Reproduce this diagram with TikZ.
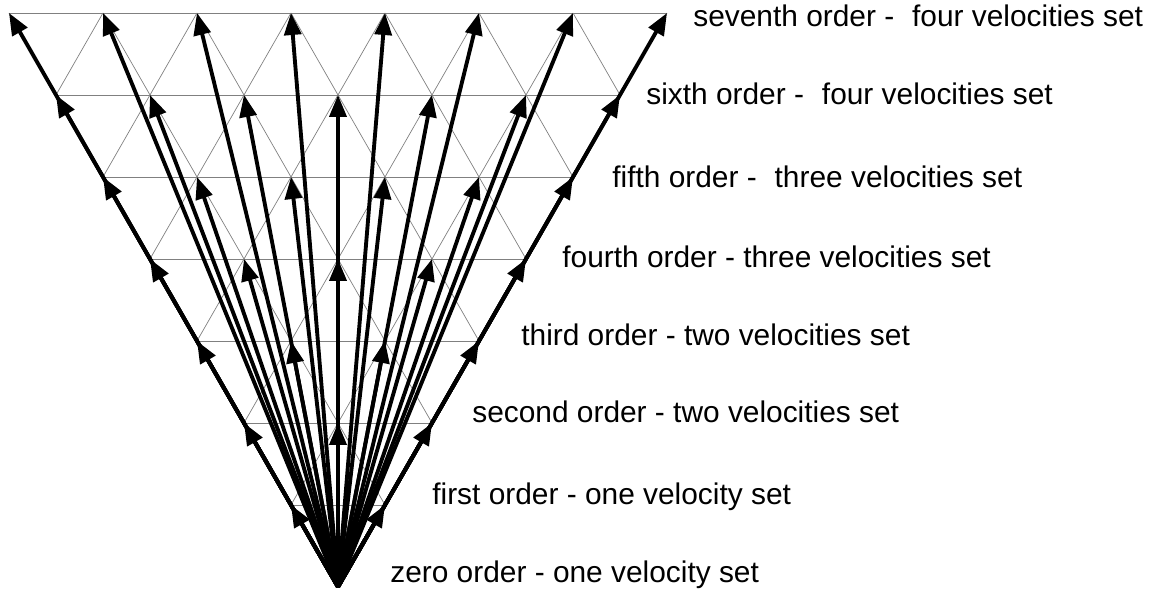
\documentclass[tikz,border=0pt]{standalone}
\usepackage{fontspec}
\setmainfont{Liberation Sans}
\usetikzlibrary{arrows.meta}

\begin{document}
\begin{tikzpicture}[x=0.94cm, y=1.64cm,
  gridline/.style={gray, line width=0.4pt},
  velocity/.style={-{Triangle[length=0.44cm, width=0.34cm]}, line width=2.2pt},
  orderlabel/.style={anchor=base west, inner sep=0pt, font=\fontsize{17}{20}\selectfont}]

\useasboundingbox (-6.76cm,-0.16cm) rectangle (16.28cm,11.74cm);

\foreach \k in {0,...,7} {
  \foreach \j in {0,...,\k} {
    \coordinate (p\k\j) at ({2*\j-\k},\k);
  }
}
\coordinate (o) at (p00);

\foreach \k in {1,...,7} \draw[gridline] (p\k0) -- (p\k\k);
\foreach \j in {0,...,6} \draw[gridline] (p\j\j) -- (p7\j);
\foreach \m [evaluate=\m as \n using int(7-\m)] in {0,...,6} \draw[gridline] (p\m0) -- (p7\n);

\foreach \k in {1,...,7} {
  \foreach \j in {0,...,\k} {
    \draw[velocity] (o) -- (p\k\j);
  }
}

\node (ord7) [orderlabel] at (7.10cm,11.20cm) {seventh order -\hspace{0.6em}four velocities set};
\node (ord6) [orderlabel] at (6.16cm,9.64cm) {sixth order -\hspace{0.6em}four velocities set};
\node (ord5) [orderlabel] at (5.48cm,7.98cm) {fifth order -\hspace{0.6em}three velocities set};
\node (ord4) [orderlabel] at (4.48cm,6.38cm) {fourth order - three velocities set};
\node (ord3) [orderlabel] at (3.66cm,4.82cm) {third order - two velocities set};
\node (ord2) [orderlabel] at (2.68cm,3.28cm) {second order - two velocities set};
\node (ord1) [orderlabel] at (1.88cm,1.64cm) {first order - one velocity set};
\node (ord0) [orderlabel] at (1.04cm,0.08cm) {zero order - one velocity set};

\end{tikzpicture}
\end{document}
